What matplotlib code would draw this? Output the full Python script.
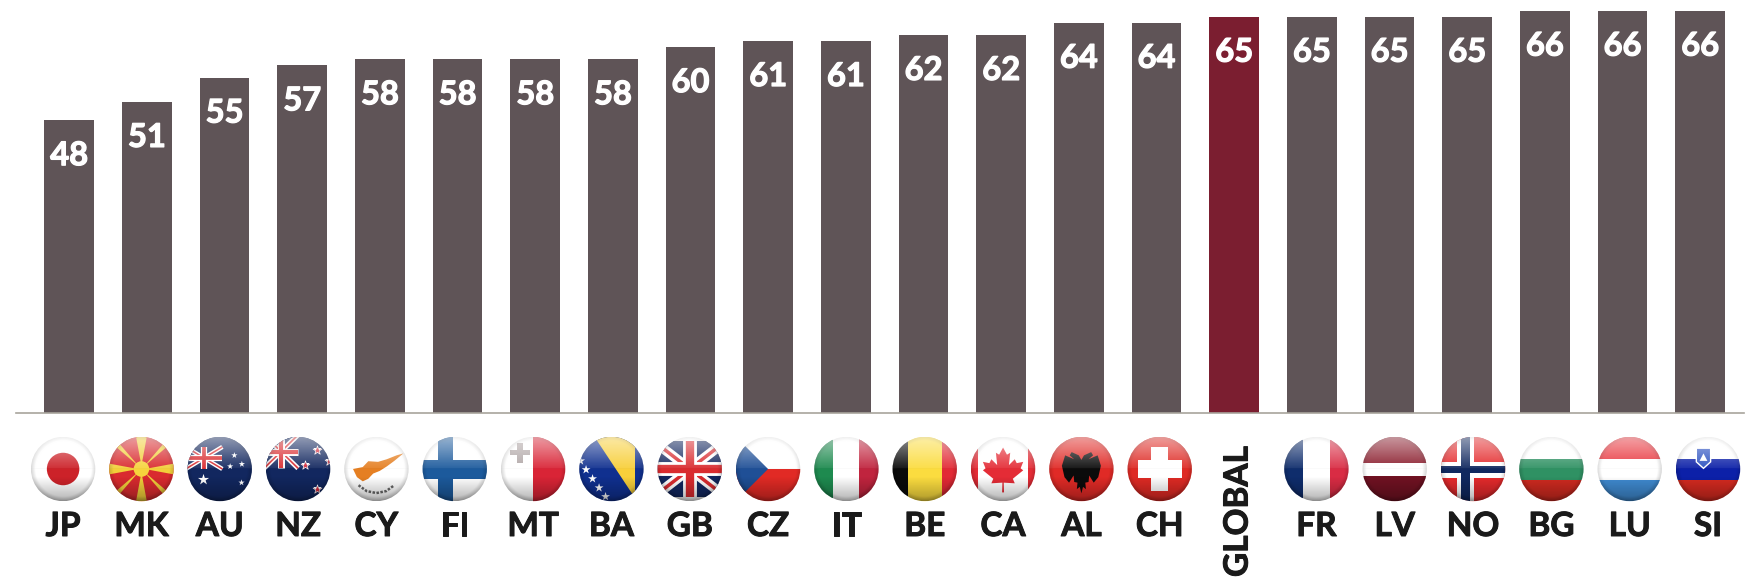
import matplotlib
matplotlib.use('Agg')
import matplotlib.pyplot as plt
import numpy as np
from matplotlib.patches import Circle, Polygon, Rectangle
from matplotlib.patheffects import withStroke

codes = ['JP', 'MK', 'AU', 'NZ', 'CY', 'FI', 'MT', 'BA', 'GB', 'CZ', 'IT',
         'BE', 'CA', 'AL', 'CH', 'GLOBAL', 'FR', 'LV', 'NO', 'BG', 'LU', 'SI']
values = [48, 51, 55, 57, 58, 58, 58, 58, 60, 61, 61,
          62, 62, 64, 64, 65, 65, 65, 65, 66, 66, 66]

W, H = 1764, 580
BASE = 412.5      # baseline, px from top
UNIT = 6.09       # px per value
BAR = '#5f5457'
HIGHLIGHT = '#7b1e30'
FONT = 'Lato'

RED = '#d92b2f'
NAVY = '#12275f'
WHITE = '#ffffff'


def hbands(fa, cuts, cols):
    edges = [-1.1] + cuts + [1.1]
    for i, c in enumerate(cols):
        fa.add_patch(Rectangle((-1.1, edges[i]), 2.2, edges[i + 1] - edges[i], fc=c, lw=0))


def vbands(fa, cuts, cols):
    edges = [-1.1] + cuts + [1.1]
    for i, c in enumerate(cols):
        fa.add_patch(Rectangle((edges[i], -1.1), edges[i + 1] - edges[i], 2.2, fc=c, lw=0))


def cross(fa, x0, x1, y0, y1, col, lim=1.1):
    fa.add_patch(Rectangle((x0, -lim), x1 - x0, 2 * lim, fc=col, lw=0))
    fa.add_patch(Rectangle((-lim, y0), 2 * lim, y1 - y0, fc=col, lw=0))


def jack(fa, x0, y0, x1, y1, scale=1.0):
    fa.add_patch(Rectangle((x0, y0), x1 - x0, y1 - y0, fc=NAVY, lw=0))
    cx, cy = (x0 + x1) / 2, (y0 + y1) / 2
    for xs, ys in [((x0, x1), (y0, y1)), ((x0, x1), (y1, y0))]:
        fa.plot(xs, ys, color=WHITE, lw=7 * scale, solid_capstyle='butt')
        fa.plot(xs, ys, color=RED, lw=2.5 * scale, solid_capstyle='butt')
    fa.plot((x0, x1), (cy, cy), color=WHITE, lw=10 * scale, solid_capstyle='butt')
    fa.plot((cx, cx), (y0, y1), color=WHITE, lw=10 * scale, solid_capstyle='butt')
    fa.plot((x0, x1), (cy, cy), color=RED, lw=6 * scale, solid_capstyle='butt')
    fa.plot((cx, cx), (y0, y1), color=RED, lw=6 * scale, solid_capstyle='butt')


def stars(fa, pts, col, size, edge='none'):
    fa.scatter([p[0] for p in pts], [p[1] for p in pts], marker='*', s=size,
               c=col, edgecolors=edge, linewidths=0.5, zorder=3)


def flag_jp(fa):
    fa.add_patch(Rectangle((-1.1, -1.1), 2.2, 2.2, fc=WHITE, lw=0))
    fa.add_patch(Circle((0, 0), 0.5, fc='#cc2229', lw=0))


def flag_mk(fa):
    fa.add_patch(Rectangle((-1.1, -1.1), 2.2, 2.2, fc=RED, lw=0))
    for deg in range(0, 360, 45):
        a = np.radians(deg)
        half = 0.17 if deg % 90 == 0 else 0.07
        d = np.array([np.cos(a), np.sin(a)])
        n = np.array([-d[1], d[0]])
        fa.add_patch(Polygon([d * 0.1, d * 1.2 + n * half * 1.2, d * 1.2 - n * half * 1.2],
                             fc='#f2cf3a', lw=0))
    fa.add_patch(Circle((0, 0), 0.24, fc='#f6d33c', lw=0))


def flag_au(fa):
    fa.add_patch(Rectangle((-1.1, -1.1), 2.2, 2.2, fc=NAVY, lw=0))
    jack(fa, -1.05, 0.0, 0.08, 0.68, 0.45)
    stars(fa, [(-0.5, -0.33)], WHITE, 70)
    stars(fa, [(0.32, 0.08), (0.68, 0.15), (0.67, -0.42), (0.45, 0.42)], WHITE, 22)


def flag_nz(fa):
    fa.add_patch(Rectangle((-1.1, -1.1), 2.2, 2.2, fc=NAVY, lw=0))
    jack(fa, -1.05, 0.02, 0.0, 1.05, 0.5)
    stars(fa, [(0.57, 0.57), (0.2, 0.13), (0.96, 0.24), (0.57, -0.6)], '#d3283a', 45, WHITE)


def flag_cy(fa):
    fa.add_patch(Rectangle((-1.1, -1.1), 2.2, 2.2, fc=WHITE, lw=0))
    island = [(-0.72, 0.0), (-0.42, 0.06), (-0.25, 0.24), (0.05, 0.22), (0.32, 0.3),
              (0.62, 0.42), (0.83, 0.48), (0.55, 0.25), (0.32, 0.08), (0.1, -0.06),
              (-0.1, -0.14), (-0.25, -0.3), (-0.42, -0.38), (-0.6, -0.25)]
    fa.add_patch(Polygon(island, fc='#e57f22', lw=0))
    fa.plot([-0.55, -0.3, 0, 0.3, 0.55], [-0.5, -0.68, -0.74, -0.68, -0.5],
            color='#666666', lw=1.8, ls=(0, (1, 0.6)))


def flag_fi(fa):
    fa.add_patch(Rectangle((-1.1, -1.1), 2.2, 2.2, fc=WHITE, lw=0))
    cross(fa, -0.52, -0.04, -0.3, 0.27, '#1c5a9c')


def flag_mt(fa):
    vbands(fa, [0.0], [WHITE, '#d92436'])
    fa.add_patch(Rectangle((-0.48, 0.2), 0.16, 0.6, fc='#b0a6a6', lw=0))
    fa.add_patch(Rectangle((-0.7, 0.42), 0.6, 0.16, fc='#b0a6a6', lw=0))


def flag_ba(fa):
    fa.add_patch(Rectangle((-1.1, -1.1), 2.2, 2.2, fc='#10308f', lw=0))
    fa.add_patch(Polygon([(-0.65, 1.2), (0.72, 1.2), (0.72, -0.9)], fc='#f8cf3a', lw=0))
    stars(fa, [(-0.95, 0.25), (-0.78, -0.02), (-0.58, -0.3), (-0.38, -0.58), (-0.18, -0.85)],
          WHITE, 45)


def flag_gb(fa):
    jack(fa, -1.1, -0.85, 1.1, 0.85, 1.0)


def flag_cz(fa):
    hbands(fa, [0.0], ['#e12a25', WHITE])
    fa.add_patch(Polygon([(-1.1, 1.1), (0.0, 0.0), (-1.1, -1.1)], fc='#1f4f96', lw=0))


def flag_it(fa):
    vbands(fa, [-0.4, 0.4], ['#1e8a4f', WHITE, '#c0243e'])


def flag_be(fa):
    vbands(fa, [-0.52, 0.52], ['#0a0a0a', '#fbdc3f', '#e22a35'])


def flag_ca(fa):
    vbands(fa, [-0.78, 0.78], ['#e42c36', WHITE, '#e42c36'])
    half = [(0, 0.66), (0.12, 0.44), (0.22, 0.5), (0.18, 0.12), (0.36, 0.3), (0.42, 0.18),
            (0.62, 0.22), (0.54, 0.02), (0.62, -0.04), (0.3, -0.3), (0.36, -0.44), (0.02, -0.42),
            (0.03, -0.72)]
    leaf = half + [(-x, y) for x, y in reversed(half)]
    fa.add_patch(Polygon(leaf, fc='#e42c36', lw=0))


def flag_al(fa):
    fa.add_patch(Rectangle((-1.1, -1.1), 2.2, 2.2, fc='#e02a26', lw=0))
    half = [(0, 0.28), (0.08, 0.42), (0.3, 0.52), (0.36, 0.42), (0.22, 0.3), (0.5, 0.42),
            (0.6, 0.1), (0.52, -0.25), (0.38, -0.42), (0.24, -0.2), (0.22, -0.4), (0.12, -0.42),
            (0.14, -0.62), (0.05, -0.55), (0, -0.75)]
    fa.add_patch(Polygon(half + [(-x, y) for x, y in reversed(half)], fc='#0b0b0b', lw=0))


def flag_ch(fa):
    fa.add_patch(Rectangle((-1.1, -1.1), 2.2, 2.2, fc='#de2a24', lw=0))
    fa.add_patch(Rectangle((-0.26, -0.68), 0.52, 1.36, fc=WHITE, lw=0))
    fa.add_patch(Rectangle((-0.68, -0.27), 1.36, 0.54, fc=WHITE, lw=0))


def flag_fr(fa):
    vbands(fa, [-0.4, 0.42], ['#0f2d6c', WHITE, '#d92c44'])


def flag_lv(fa):
    hbands(fa, [-0.23, 0.19], ['#701222', WHITE, '#8a1c2c'])


def flag_no(fa):
    fa.add_patch(Rectangle((-1.1, -1.1), 2.2, 2.2, fc='#e42a2c', lw=0))
    cross(fa, -0.5, 0.04, -0.27, 0.22, WHITE)
    cross(fa, -0.37, -0.1, -0.12, 0.09, '#10285f')


def flag_bg(fa):
    hbands(fa, [-0.35, 0.32], ['#cf2a20', '#2f9163', WHITE])


def flag_lu(fa):
    hbands(fa, [-0.33, 0.32], ['#3f8ad0', WHITE, '#e8343c'])


def flag_si(fa):
    hbands(fa, [-0.35, 0.32], ['#d42a20', '#0c20a8', WHITE])
    fa.add_patch(Polygon([(-0.36, 0.64), (0.08, 0.64), (0.08, 0.22), (-0.14, 0.02), (-0.36, 0.22)],
                         fc='#2a50c0', ec=WHITE, lw=1))
    fa.add_patch(Polygon([(-0.26, 0.25), (-0.14, 0.48), (-0.02, 0.25)], fc=WHITE, lw=0))


flag_funcs = {'JP': flag_jp, 'MK': flag_mk, 'AU': flag_au, 'NZ': flag_nz, 'CY': flag_cy,
              'FI': flag_fi, 'MT': flag_mt, 'BA': flag_ba, 'GB': flag_gb, 'CZ': flag_cz,
              'IT': flag_it, 'BE': flag_be, 'CA': flag_ca, 'AL': flag_al, 'CH': flag_ch,
              'FR': flag_fr, 'LV': flag_lv, 'NO': flag_no, 'BG': flag_bg, 'LU': flag_lu,
              'SI': flag_si}

# glossy ball overlay, same for every flag
yy, xx = np.mgrid[1:-1:200j, -1:1:200j]
rr = np.sqrt(xx ** 2 + yy ** 2)
gloss = np.zeros((200, 200, 4))
white_a = np.clip(yy, 0, 1) * 0.5 * (yy > 0.0) + 0.06 * (yy > 0.0)
dark_a = np.clip(-yy - 0.25, 0, 1) * 0.4 + np.clip((rr - 0.86) / 0.14, 0, 1) * 0.16
alpha = white_a + dark_a * (1 - white_a)
shade = np.where(alpha > 0, white_a / np.maximum(alpha, 1e-6), 0)
gloss[..., :3] = shade[..., None]
gloss[..., 3] = np.clip(alpha, 0, 0.8)

fig = plt.figure(figsize=(W / 100, H / 100), dpi=100)
ax = fig.add_axes([16 / W, 1 - BASE / H, (1744 - 16) / W, BASE / H])

x = np.arange(len(codes))
colors = [HIGHLIGHT if c == 'GLOBAL' else BAR for c in codes]
ax.bar(x, values, width=0.64, color=colors)

ax.set_xlim((16 - 69.2) / 77.67, (1744 - 69.2) / 77.67)
ax.set_ylim(0, BASE / UNIT)
ax.set_yticks([])
ax.set_xticks([])
for s in ['top', 'left', 'right']:
    ax.spines[s].set_visible(False)
ax.spines['bottom'].set_color('#a8a49c')
ax.spines['bottom'].set_linewidth(1.2)

# flags and codes run on a slightly wider pitch than the bars
def slot_px(i):
    return 63.1 + 78.33 * i


heavy = [withStroke(linewidth=0.9, foreground='white')]
dark = [withStroke(linewidth=0.7, foreground='#1a1a1a')]
for i, (c, v) in enumerate(zip(codes, values)):
    ax.text(i, v - 45 / UNIT, str(v), color='white', fontsize=23.5, fontweight='bold',
            family=FONT, ha='center', va='baseline', path_effects=heavy)
    lx = (slot_px(i) - 69.2) / 77.67
    if c == 'GLOBAL':
        ax.text(lx, -(577 - BASE) / UNIT, c, color='#1a1a1a', fontsize=24, fontweight='bold',
                family=FONT, rotation=90, ha='center', va='bottom', clip_on=False, path_effects=dark)
    else:
        ax.text(lx, -(536 - BASE) / UNIT, c, color='#1a1a1a', fontsize=24, fontweight='bold',
                family=FONT, ha='center', va='baseline', clip_on=False, path_effects=dark)

# flags sit under the bars, one small axes each
R = 32.5
for i, c in enumerate(codes):
    if c not in flag_funcs:
        continue
    cx = slot_px(i)
    fa = fig.add_axes([(cx - R) / W, 1 - (469 + R) / H, 2 * R / W, 2 * R / H])
    fa.set_xlim(-1, 1)
    fa.set_ylim(-1, 1)
    fa.set_axis_off()
    flag_funcs[c](fa)
    fa.imshow(gloss, extent=(-1, 1, -1, 1), zorder=10, aspect='auto')
    fa.set_xlim(-1, 1)
    fa.set_ylim(-1, 1)
    clip = Circle((0, 0), 0.99, transform=fa.transData)
    for art in list(fa.patches) + list(fa.lines) + list(fa.collections) + list(fa.images):
        art.set_clip_path(clip)

fig.savefig('out.png', dpi=100)
